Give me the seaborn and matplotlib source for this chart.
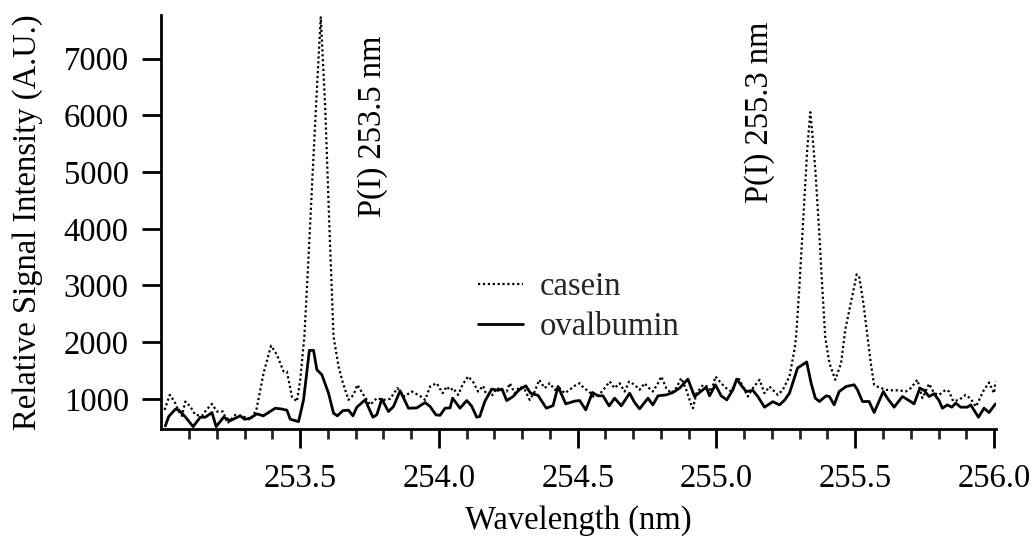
import numpy as np
import pandas as pd
import matplotlib
matplotlib.use("Agg")
import matplotlib.pyplot as plt
import seaborn as sns

# ---------------- data ----------------
ovalbumin_wl = [253.014, 253.026, 253.050, 253.062, 253.086, 253.114, 253.140, 253.158, 253.182, 253.197,
                253.224, 253.248, 253.284, 253.300, 253.320, 253.344, 253.367, 253.410, 253.434, 253.452,
                253.464, 253.494, 253.512, 253.533, 253.548, 253.560, 253.578, 253.602, 253.620, 253.634,
                253.654, 253.674, 253.690, 253.704, 253.734, 253.762, 253.776, 253.794, 253.818, 253.836,
                253.860, 253.890, 253.920, 253.950, 253.968, 253.989, 254.004, 254.022, 254.040, 254.049,
                254.076, 254.100, 254.118, 254.136, 254.147, 254.165, 254.190, 254.213, 254.227, 254.244,
                254.267, 254.289, 254.313, 254.330, 254.357, 254.387, 254.411, 254.429, 254.457, 254.489,
                254.507, 254.529, 254.553, 254.573, 254.591, 254.613, 254.633, 254.657, 254.687, 254.705,
                254.723, 254.753, 254.771, 254.789, 254.819, 254.843, 254.867, 254.897, 254.921, 254.939,
                254.963, 254.975, 254.996, 255.017, 255.037, 255.059, 255.073, 255.089, 255.107, 255.131,
                255.149, 255.173, 255.203, 255.227, 255.245, 255.263, 255.292, 255.325, 255.341, 255.356,
                255.371, 255.395, 255.407, 255.424, 255.442, 255.467, 255.496, 255.508, 255.526, 255.550,
                255.568, 255.601, 255.616, 255.640, 255.670, 255.694, 255.712, 255.733, 255.748, 255.766,
                255.784, 255.802, 255.814, 255.832, 255.848, 255.862, 255.880, 255.904, 255.916, 255.944,
                255.964, 255.982, 256.000, 256.006]
ovalbumin_int = [522, 687, 817, 805, 681, 510, 676, 676, 758, 510,
                 676, 616, 700, 640, 660, 735, 700, 835, 820, 800,
                 641, 598, 982, 1855, 1855, 1513, 1425, 1100, 747, 700,
                 793, 800, 700, 853, 982, 676, 720, 995, 776, 864,
                 1142, 835, 840, 935, 865, 717, 710, 835, 840, 1012,
                 835, 970, 870, 676, 690, 953, 1172, 1150, 1172, 970,
                 1040, 1159, 1230, 1100, 1060, 835, 880, 1218, 911, 960,
                 970, 805, 1112, 1053, 1053, 876, 1012, 876, 1100, 935,
                 823, 1012, 894, 1053, 1070, 1112, 1189, 1348, 1041, 1112,
                 1207, 1053, 1248, 1053, 982, 1159, 1348, 1240, 1129, 1150,
                 1041, 853, 950, 894, 975, 1100, 1543, 1650, 1276, 1012,
                 953, 1053, 1040, 894, 1129, 1218, 1248, 1160, 953, 953,
                 758, 1129, 1010, 853, 1041, 970, 911, 1189, 1150, 1041,
                 1090, 970, 835, 894, 853, 925, 853, 853, 894, 676,
                 835, 758, 876, 911]

casein_wl = [253.011, 253.030, 253.047, 253.062, 253.074, 253.086, 253.104, 253.122, 253.146, 253.162,
             253.182, 253.200, 253.222, 253.238, 253.266, 253.290, 253.320, 253.342, 253.368, 253.395,
             253.416, 253.440, 253.452, 253.470, 253.488, 253.500, 253.515, 253.530, 253.545, 253.560,
             253.574, 253.590, 253.604, 253.620, 253.638, 253.654, 253.674, 253.692, 253.706, 253.728,
             253.752, 253.776, 253.799, 253.824, 253.850, 253.874, 253.902, 253.932, 253.950, 253.968,
             253.992, 254.013, 254.028, 254.040, 254.051, 254.069, 254.085, 254.105, 254.123, 254.141,
             254.159, 254.171, 254.190, 254.208, 254.226, 254.244, 254.255, 254.273, 254.291, 254.309,
             254.327, 254.345, 254.361, 254.381, 254.399, 254.417, 254.435, 254.453, 254.471, 254.489,
             254.507, 254.522, 254.541, 254.555, 254.577, 254.597, 254.615, 254.633, 254.651, 254.669,
             254.685, 254.705, 254.723, 254.741, 254.753, 254.771, 254.789, 254.801, 254.819, 254.837,
             254.855, 254.873, 254.891, 254.909, 254.915, 254.928, 254.952, 254.970, 254.982, 254.996,
             255.017, 255.035, 255.053, 255.077, 255.095, 255.113, 255.131, 255.155, 255.173, 255.191,
             255.221, 255.239, 255.263, 255.281, 255.287, 255.299, 255.313, 255.327, 255.338, 255.345,
             255.356, 255.371, 255.381, 255.392, 255.407, 255.428, 255.449, 255.464, 255.478, 255.493,
             255.505, 255.514, 255.529, 255.544, 255.556, 255.568, 255.586, 255.612, 255.634, 255.658,
             255.682, 255.700, 255.724, 255.742, 255.766, 255.784, 255.802, 255.826, 255.838, 255.853,
             255.874, 255.898, 255.916, 255.935, 255.964, 255.982, 256.000, 256.006]
casein_int = [805, 1070, 953, 780, 700, 953, 864, 717, 700, 805,
              911, 776, 776, 570, 717, 700, 628, 805, 1455, 1938,
              1778, 1483, 1483, 1040, 953, 1336, 2100, 3500, 5000, 6450,
              7730, 6150, 4186, 2100, 1572, 1276, 982, 1070, 1248, 1070,
              894, 1012, 980, 1000, 1189, 1040, 1129, 1050, 982, 1218,
              1276, 1100, 1218, 1150, 1189, 1070, 1250, 1395, 1300, 1129,
              1230, 1070, 1050, 1189, 1160, 1129, 1276, 1100, 1218, 1160,
              982, 1129, 1336, 1189, 1276, 1160, 1189, 1100, 1160, 1230,
              1276, 1189, 1129, 1041, 1070, 1189, 1306, 1189, 1276, 1129,
              1306, 1248, 1160, 1276, 1207, 1129, 1276, 1395, 1189, 1100,
              1189, 1366, 1160, 894, 835, 1100, 1248, 1207, 1129, 1395,
              1276, 1189, 1129, 1384, 1218, 1041, 1189, 1336, 1100, 1218,
              1070, 1160, 1395, 1867, 2103, 3000, 4200, 5400, 6056, 5700,
              5053, 3867, 2980, 2080, 1630, 1336, 1630, 2221, 2547, 2903,
              3195, 3160, 2700, 2103, 1630, 1248, 1200, 1159, 1150, 1150,
              1130, 1189, 1336, 1012, 1265, 1100, 1070, 1160, 1130, 960,
              980, 1070, 1000, 864, 1159, 1288, 1100, 1306]

x_ticks = [253.5, 254.0, 254.5, 255.0, 255.5, 256.0]
y_ticks = [1000, 2000, 3000, 4000, 5000, 6000, 7000]
annotations = ["P(I) 253.5 nm", "P(I) 255.3 nm"]
annotation_x = [253.76, 255.155]
annotation_y = [7417, 7652]

# ---------------- style ----------------
sns.set_style("ticks")
plt.rcParams['font.family'] = ['Liberation Serif', 'DejaVu Serif']
FS = 23.5

fig = plt.figure(figsize=(10.35, 5.37), dpi=100)
ax = fig.add_axes([0.156, 0.201, 0.806, 0.771])

df_c = pd.DataFrame({"wl": casein_wl, "val": casein_int})
df_o = pd.DataFrame({"wl": ovalbumin_wl, "val": ovalbumin_int})

sns.lineplot(data=df_c, x="wl", y="val", ax=ax, color="black", linewidth=1.6,
             linestyle=(0, (1, 1.2)), estimator=None, label="casein")
sns.lineplot(data=df_o, x="wl", y="val", ax=ax, color="black", linewidth=2.0,
             linestyle="-", estimator=None, label="ovalbumin")

ax.set_xlim(253.0, 256.006)
ax.set_ylim(467, 7770)
ax.set_xticks(x_ticks)
ax.set_xticklabels([f"{v:.1f}" for v in x_ticks])
ax.set_xticks(np.arange(253.1, 256.0, 0.1), minor=True)
ax.set_yticks(y_ticks)
ax.set_yticklabels([str(v) for v in y_ticks])

for s in ["top", "right"]:
    ax.spines[s].set_visible(False)
for s in ["left", "bottom"]:
    ax.spines[s].set_linewidth(2.0)
    ax.spines[s].set_color("black")

ax.tick_params(axis="x", which="major", length=14, width=2.0, labelsize=FS, pad=11, colors="black")
ax.tick_params(axis="x", which="minor", length=7, width=2.0)
ax.tick_params(axis="y", which="major", length=14, width=2.0, labelsize=FS, pad=9.5, colors="black")
ax.tick_params(axis="y", which="minor", left=False)

ax.set_xlabel("Wavelength (nm)", fontsize=FS, labelpad=8, color="black")
ax.set_ylabel("Relative Signal Intensity (A.U.)", fontsize=FS, labelpad=15, color="black")

for txt, xv, yv in zip(annotations, annotation_x, annotation_y):
    ax.text(xv, yv, txt, rotation=90, fontsize=FS, ha="center", va="top", color="black")

leg = ax.legend(loc="center", bbox_to_anchor=(0.5, 0.295), frameon=False, fontsize=FS,
                handlelength=1.4, handletextpad=0.5, labelspacing=0.3, borderaxespad=0)

fig.savefig("out.png", dpi=100)
